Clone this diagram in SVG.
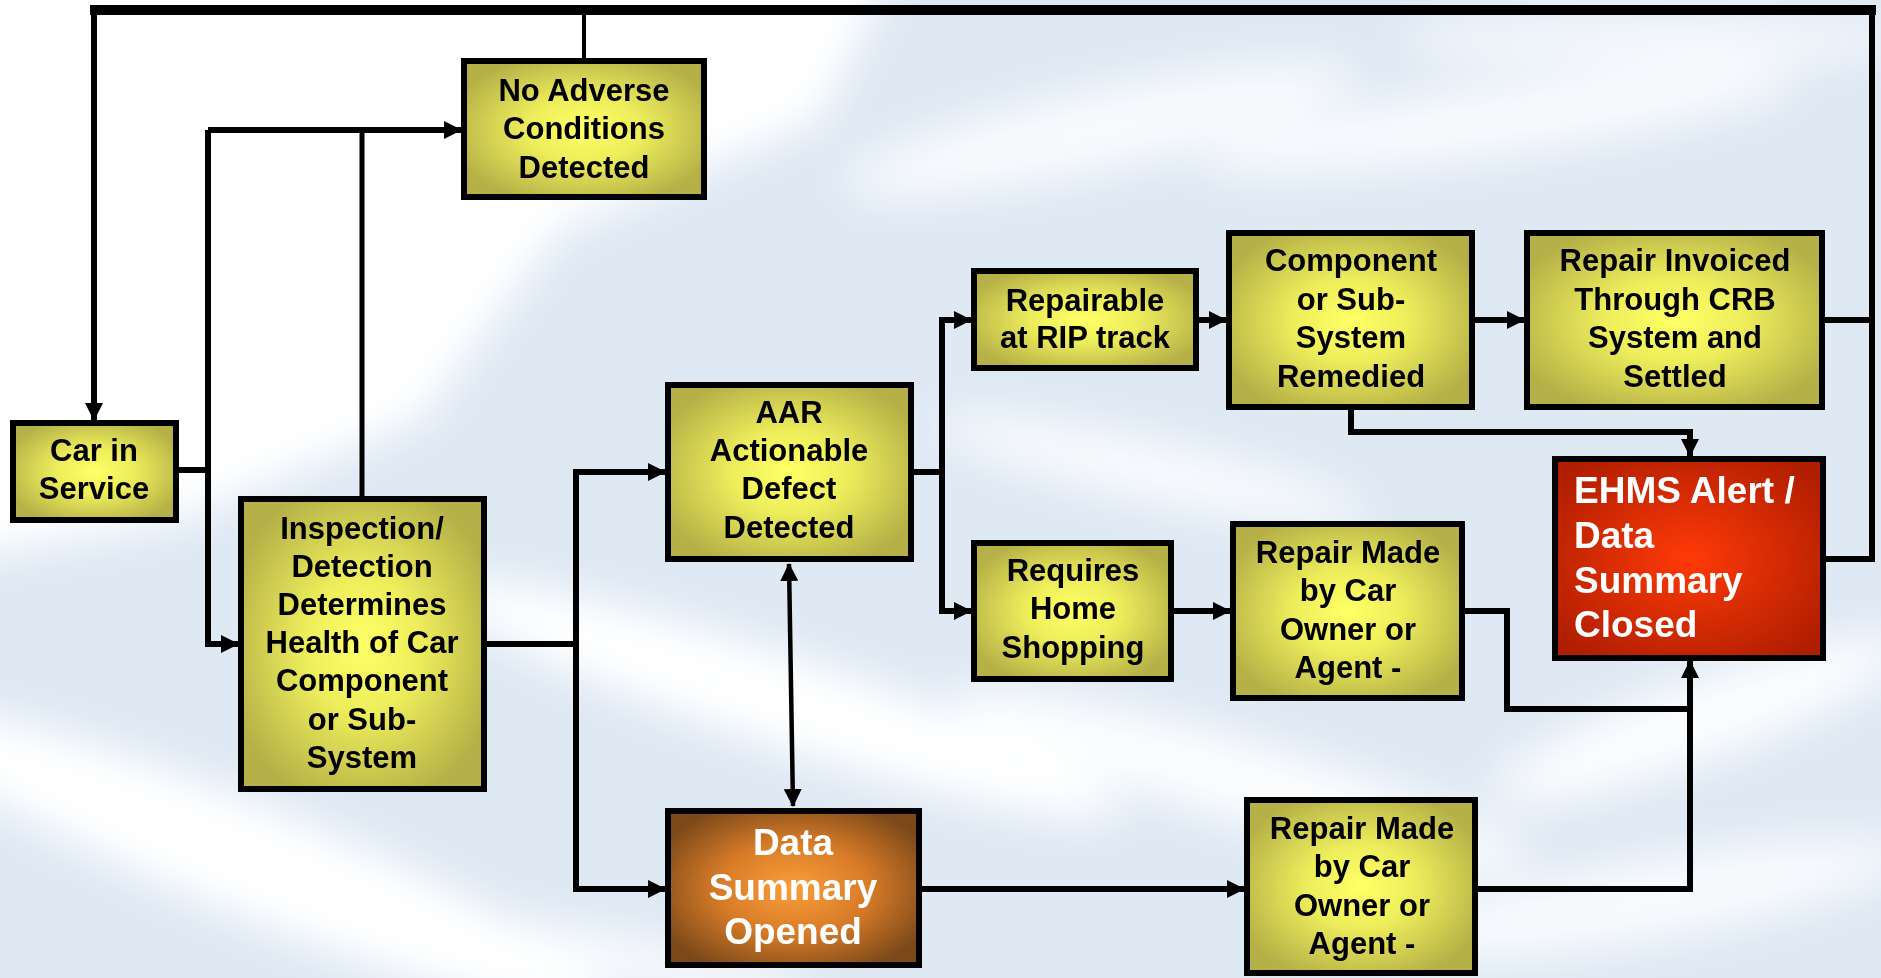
<svg xmlns="http://www.w3.org/2000/svg" width="1881" height="978" viewBox="0 0 1881 978">
<style>
.box{stroke:#000;stroke-width:6}
.y{fill:url(#gy)}
.t{font-family:"Liberation Sans",Arial,Helvetica,sans-serif;font-weight:bold;font-size:31px;fill:#000;text-anchor:middle}
.tw{font-family:"Liberation Sans",Arial,Helvetica,sans-serif;font-weight:bold;font-size:37px;fill:#fff}
.c{fill:none;stroke:#000;stroke-width:6;stroke-linejoin:miter}
.a{marker-end:url(#ah)}
</style>
<defs>
<radialGradient id="gy" cx="50%" cy="50%" r="58%">
<stop offset="0" stop-color="#ffff66"/>
<stop offset="0.4" stop-color="#eeee5c"/>
<stop offset="1" stop-color="#b5b047"/>
</radialGradient>
<radialGradient id="gr" cx="50%" cy="50%" r="62%">
<stop offset="0" stop-color="#ff3a08"/>
<stop offset="1" stop-color="#b01e00"/>
</radialGradient>
<radialGradient id="gb" cx="50%" cy="50%" r="60%">
<stop offset="0" stop-color="#fb9e3a"/>
<stop offset="0.5" stop-color="#d77b28"/>
<stop offset="1" stop-color="#7a4819"/>
</radialGradient>
<marker id="ah" markerUnits="userSpaceOnUse" markerWidth="18" markerHeight="18" refX="17" refY="9" orient="auto">
<path d="M0,0 L18,9 L0,18 z" fill="#000"/>
</marker>
<marker id="ahs" markerUnits="userSpaceOnUse" markerWidth="18" markerHeight="18" refX="1" refY="9" orient="auto">
<path d="M18,0 L0,9 L18,18 z" fill="#000"/>
</marker>
<filter id="bl" x="-20%" y="-50%" width="140%" height="200%"><feGaussianBlur stdDeviation="22"/></filter>
</defs>

<g id="background">
<rect x="0" y="0" width="1881" height="978" fill="#dfe9f4"/>
<g filter="url(#bl)" fill="#ffffff">
<path d="M-50,-50 L900,-50 L820,120 L560,230 L420,420 L180,520 L-50,560 z"/>
<ellipse cx="1100" cy="130" rx="260" ry="40" transform="rotate(-12 1100 130)" opacity="0.8"/>
<ellipse cx="1500" cy="120" rx="300" ry="35" transform="rotate(-8 1500 120)" opacity="0.8"/>
<ellipse cx="1650" cy="40" rx="250" ry="25" opacity="0.7"/>
<ellipse cx="780" cy="700" rx="360" ry="45" transform="rotate(18 780 700)"/>
<ellipse cx="250" cy="860" rx="380" ry="55" transform="rotate(22 250 860)"/>
<ellipse cx="1240" cy="780" rx="300" ry="40" transform="rotate(16 1240 780)" opacity="0.9"/>
<ellipse cx="1700" cy="720" rx="220" ry="40" transform="rotate(-20 1700 720)" opacity="0.9"/>
<ellipse cx="1650" cy="900" rx="260" ry="40" transform="rotate(-10 1650 900)" opacity="0.8"/>
<ellipse cx="1150" cy="470" rx="220" ry="30" transform="rotate(12 1150 470)" opacity="0.8"/>
<ellipse cx="620" cy="960" rx="200" ry="25" transform="rotate(10 620 960)" opacity="0.8"/>
</g>
</g>

<g id="connectors">
<path d="M90,10 H1876" fill="none" stroke="#000" stroke-width="10"/>
<path class="c" d="M1826,559 H1872 V12"/>
<path class="c" d="M1825,320 H1872"/>
<path class="c a" d="M94,12 V420"/>
<path d="M584,12 V58" fill="none" stroke="#000" stroke-width="4"/>
<path class="c" d="M179,470 H208"/>
<path class="c a" d="M208,130 V644 H238"/>
<path class="c a" d="M208,130 H461"/>
<path d="M362,496 V130" fill="none" stroke="#000" stroke-width="5"/>
<path class="c" d="M487,644 H576"/>
<path class="c a" d="M576,644 V472 H665"/>
<path class="c a" d="M576,644 V889 H665"/>
<path d="M789,564 L793,806" fill="none" stroke="#000" stroke-width="4.5" marker-end="url(#ah)" marker-start="url(#ahs)"/>
<path class="c" d="M914,472 H942"/>
<path class="c a" d="M942,472 V320 H971"/>
<path class="c a" d="M942,472 V611 H971"/>
<path class="c a" d="M1199,320 H1226"/>
<path class="c a" d="M1475,320 H1524"/>
<path class="c a" d="M1351,410 V432 H1690 V456"/>
<path class="c a" d="M1174,611 H1230"/>
<path class="c" d="M1465,611 H1507 V709 H1690"/>
<path class="c a" d="M922,889 H1244"/>
<path class="c a" d="M1478,889 H1690 V661"/>
</g>

<g id="n-car-in-service">
<rect class="box y" x="13" y="423" width="163" height="97"/>
<text class="t" x="94" y="461">Car in</text>
<text class="t" x="94" y="499">Service</text>
</g>

<g id="n-no-adverse">
<rect class="box y" x="464" y="61" width="240" height="136"/>
<text class="t" x="584" y="101">No Adverse</text>
<text class="t" x="584" y="139">Conditions</text>
<text class="t" x="584" y="178">Detected</text>
</g>

<g id="n-inspection">
<rect class="box y" x="241" y="499" width="243" height="290"/>
<text class="t" x="362" y="539">Inspection/</text>
<text class="t" x="362" y="577">Detection</text>
<text class="t" x="362" y="615">Determines</text>
<text class="t" x="362" y="653">Health of Car</text>
<text class="t" x="362" y="691">Component</text>
<text class="t" x="362" y="730">or Sub-</text>
<text class="t" x="362" y="768">System</text>
</g>

<g id="n-aar">
<rect class="box y" x="668" y="385" width="243" height="174"/>
<text class="t" x="789" y="423">AAR</text>
<text class="t" x="789" y="461">Actionable</text>
<text class="t" x="789" y="499">Defect</text>
<text class="t" x="789" y="538">Detected</text>
</g>

<g id="n-data-summary-opened">
<rect class="box" fill="url(#gb)" x="668" y="811" width="251" height="154"/>
<text class="tw" text-anchor="middle" x="793" y="855">Data</text>
<text class="tw" text-anchor="middle" x="793" y="900">Summary</text>
<text class="tw" text-anchor="middle" x="793" y="944">Opened</text>
</g>

<g id="n-repairable">
<rect class="box y" x="974" y="271" width="222" height="97"/>
<text class="t" x="1085" y="311">Repairable</text>
<text class="t" x="1085" y="348">at RIP track</text>
</g>

<g id="n-home-shopping">
<rect class="box y" x="974" y="543" width="197" height="136"/>
<text class="t" x="1073" y="581">Requires</text>
<text class="t" x="1073" y="619">Home</text>
<text class="t" x="1073" y="658">Shopping</text>
</g>

<g id="n-component-remedied">
<rect class="box y" x="1229" y="233" width="243" height="174"/>
<text class="t" x="1351" y="271">Component</text>
<text class="t" x="1351" y="310">or Sub-</text>
<text class="t" x="1351" y="348">System</text>
<text class="t" x="1351" y="387">Remedied</text>
</g>

<g id="n-repair-invoiced">
<rect class="box y" x="1527" y="233" width="295" height="174"/>
<text class="t" x="1675" y="271">Repair Invoiced</text>
<text class="t" x="1675" y="310">Through CRB</text>
<text class="t" x="1675" y="348">System and</text>
<text class="t" x="1675" y="387">Settled</text>
</g>

<g id="n-repair-made-1">
<rect class="box y" x="1233" y="524" width="229" height="174"/>
<text class="t" x="1348" y="563">Repair Made</text>
<text class="t" x="1348" y="601">by Car</text>
<text class="t" x="1348" y="640">Owner or</text>
<text class="t" x="1348" y="678">Agent -</text>
</g>

<g id="n-ehms-closed">
<rect class="box" fill="url(#gr)" x="1555" y="459" width="268" height="199"/>
<text class="tw" x="1574" y="503">EHMS Alert /</text>
<text class="tw" x="1574" y="548">Data</text>
<text class="tw" x="1574" y="593">Summary</text>
<text class="tw" x="1574" y="637">Closed</text>
</g>

<g id="n-repair-made-2">
<rect class="box y" x="1247" y="800" width="228" height="173"/>
<text class="t" x="1362" y="839">Repair Made</text>
<text class="t" x="1362" y="877">by Car</text>
<text class="t" x="1362" y="916">Owner or</text>
<text class="t" x="1362" y="954">Agent -</text>
</g>
</svg>
